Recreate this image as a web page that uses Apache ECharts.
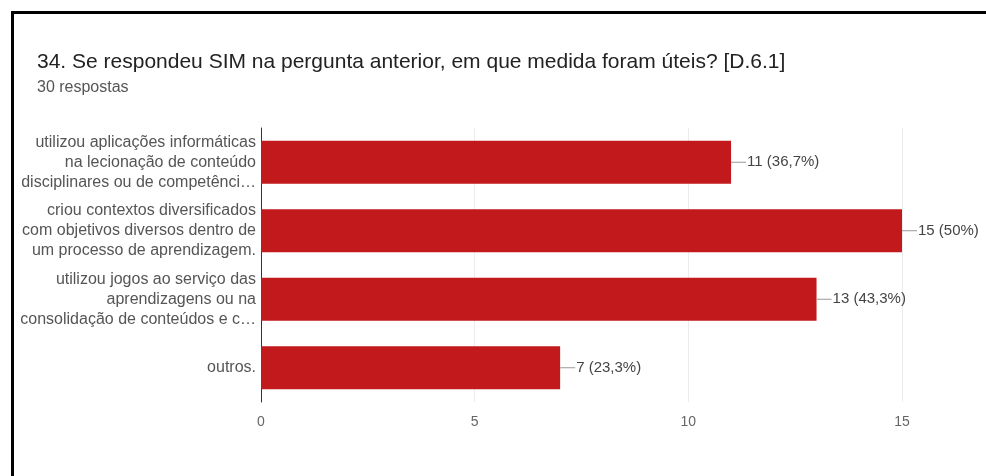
<!DOCTYPE html>
<html>
<head>
<meta charset="utf-8">
<script src="https://cdn.jsdelivr.net/npm/echarts@6/dist/echarts.min.js"></script>
<style>
  html, body { margin: 0; padding: 0; background: #fff; }
  #chart { width: 986px; height: 476px; }
</style>
</head>
<body>
<div id="chart"></div>
<script>
const titleText = '34. Se respondeu SIM na pergunta anterior, em que medida foram úteis? [D.6.1]';
const subText = '30 respostas';
const categories = [
  'utilizou aplicações informáticas\nna lecionação de conteúdo\ndisciplinares ou de competênci…',
  'criou contextos diversificados\ncom objetivos diversos dentro de\num processo de aprendizagem.',
  'utilizou jogos ao serviço das\naprendizagens ou na\nconsolidação de conteúdos e c…',
  'outros.'
];
const counts = [11, 15, 13, 7];
const percents = ['36,7%', '50%', '43,3%', '23,3%'];
const xTicks = [0, 5, 10, 15];

let chartDom = document.getElementById('chart');
let myChart = echarts.init(chartDom);
let option;

option = {
  animation: false,
  textStyle: { fontFamily: '"Liberation Sans", Arial, sans-serif' },
  title: {
    text: titleText,
    subtext: subText,
    left: 32,
    top: 47,
    itemGap: 7,
    textStyle: { fontSize: 21, fontWeight: 'normal', color: '#222' },
    subtextStyle: { fontSize: 16, color: '#555' }
  },
  // moldura preta do recorte
  graphic: [
    {
      type: 'polyline',
      shape: { points: [[12.5, 476], [12.5, 12.5], [986, 12.5]] },
      style: { stroke: '#000', lineWidth: 3, fill: null }
    }
  ],
  grid: { left: 261, right: 84, top: 128, bottom: 74 },
  xAxis: {
    type: 'value',
    min: xTicks[0],
    max: xTicks[xTicks.length - 1],
    interval: 5,
    axisLine: { show: false },
    axisTick: { show: false },
    axisLabel: { color: '#666', fontSize: 14, margin: 13 },
    splitLine: { lineStyle: { color: '#ececec' } }
  },
  yAxis: {
    type: 'category',
    inverse: true,
    data: categories,
    axisTick: { show: false },
    axisLine: { lineStyle: { color: '#333', width: 1 } },
    axisLabel: { color: '#555', fontSize: 16, lineHeight: 20, margin: 5, align: 'right' }
  },
  series: [
    {
      type: 'bar',
      data: counts,
      barWidth: '63%',
      itemStyle: { color: '#c2191c' },
      label: {
        show: true,
        position: 'right',
        distance: 0,
        formatter: p => '{ln|}{v|' + p.value + ' (' + percents[p.dataIndex] + ')}',
        rich: {
          ln: { width: 15, height: 1, backgroundColor: '#999' },
          v: { color: '#444', fontSize: 15, padding: [0, 0, 0, 1] }
        }
      }
    }
  ]
};

option && myChart.setOption(option);
</script>
</body>
</html>
